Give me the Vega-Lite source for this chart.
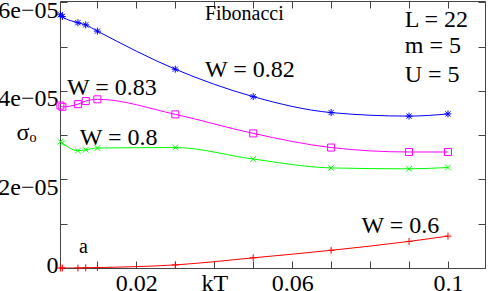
{
  "$schema": "https://vega.github.io/schema/vega-lite/v6.json",
  "width": 425,
  "height": 267,
  "autosize": {"type": "none"},
  "padding": {"left": 60, "top": 1, "right": 3, "bottom": 23},
  "background": "white",
  "config": {
    "view": {"stroke": "#444", "strokeWidth": 1},
    "font": "Liberation Serif, DejaVu Serif, serif",
    "axis": {"grid": false, "domain": false, "tickColor": "#444", "tickSize": -7, "tickWidth": 1, "labelFont": "Liberation Serif, DejaVu Serif, serif", "labelFontSize": 24, "labelColor": "black", "titleFont": "Liberation Serif, DejaVu Serif, serif", "titleFontWeight": "normal", "titleColor": "black"}
  },
  "datasets": {
    "series": [
      {"kT": 0.0005, "sigma": 5.72e-5, "W": "0.82"},
      {"kT": 0.001, "sigma": 5.68e-5, "W": "0.82"},
      {"kT": 0.005, "sigma": 5.54e-5, "W": "0.82"},
      {"kT": 0.007, "sigma": 5.49e-5, "W": "0.82"},
      {"kT": 0.01, "sigma": 5.35e-5, "W": "0.82"},
      {"kT": 0.03, "sigma": 4.49e-5, "W": "0.82"},
      {"kT": 0.05, "sigma": 3.87e-5, "W": "0.82"},
      {"kT": 0.07, "sigma": 3.51e-5, "W": "0.82"},
      {"kT": 0.09, "sigma": 3.43e-5, "W": "0.82"},
      {"kT": 0.1, "sigma": 3.48e-5, "W": "0.82"},
      {"kT": 0.0005, "sigma": 3.67e-5, "W": "0.83"},
      {"kT": 0.001, "sigma": 3.64e-5, "W": "0.83"},
      {"kT": 0.005, "sigma": 3.70e-5, "W": "0.83"},
      {"kT": 0.007, "sigma": 3.77e-5, "W": "0.83"},
      {"kT": 0.01, "sigma": 3.81e-5, "W": "0.83"},
      {"kT": 0.03, "sigma": 3.47e-5, "W": "0.83"},
      {"kT": 0.05, "sigma": 3.04e-5, "W": "0.83"},
      {"kT": 0.07, "sigma": 2.72e-5, "W": "0.83"},
      {"kT": 0.09, "sigma": 2.62e-5, "W": "0.83"},
      {"kT": 0.1, "sigma": 2.62e-5, "W": "0.83"},
      {"kT": 0.0005, "sigma": 2.85e-5, "W": "0.8"},
      {"kT": 0.001, "sigma": 2.82e-5, "W": "0.8"},
      {"kT": 0.005, "sigma": 2.65e-5, "W": "0.8"},
      {"kT": 0.007, "sigma": 2.67e-5, "W": "0.8"},
      {"kT": 0.01, "sigma": 2.71e-5, "W": "0.8"},
      {"kT": 0.03, "sigma": 2.72e-5, "W": "0.8"},
      {"kT": 0.05, "sigma": 2.46e-5, "W": "0.8"},
      {"kT": 0.07, "sigma": 2.26e-5, "W": "0.8"},
      {"kT": 0.09, "sigma": 2.24e-5, "W": "0.8"},
      {"kT": 0.1, "sigma": 2.27e-5, "W": "0.8"},
      {"kT": 0.0005, "sigma": 0.0, "W": "0.6"},
      {"kT": 0.001, "sigma": 0.0, "W": "0.6"},
      {"kT": 0.005, "sigma": 0.0, "W": "0.6"},
      {"kT": 0.007, "sigma": 0.005e-5, "W": "0.6"},
      {"kT": 0.01, "sigma": 0.01e-5, "W": "0.6"},
      {"kT": 0.03, "sigma": 0.07e-5, "W": "0.6"},
      {"kT": 0.05, "sigma": 0.23e-5, "W": "0.6"},
      {"kT": 0.07, "sigma": 0.40e-5, "W": "0.6"},
      {"kT": 0.09, "sigma": 0.60e-5, "W": "0.6"},
      {"kT": 0.1, "sigma": 0.72e-5, "W": "0.6"}
    ],
    "notes": [
      {"kT": 0.0376, "sigma": 5.60e-5, "text": "Fibonacci", "kind": "small"},
      {"kT": 0.0889, "sigma": 5.44e-5, "text": "L = 22", "kind": "big"},
      {"kT": 0.0889, "sigma": 4.85e-5, "text": "m = 5", "kind": "big"},
      {"kT": 0.0889, "sigma": 4.20e-5, "text": "U = 5", "kind": "big"},
      {"kT": 0.0376, "sigma": 4.31e-5, "text": "W = 0.82", "kind": "big"},
      {"kT": 0.0022, "sigma": 3.91e-5, "text": "W = 0.83", "kind": "big"},
      {"kT": 0.0055, "sigma": 2.78e-5, "text": "W = 0.8", "kind": "big"},
      {"kT": 0.0778, "sigma": 0.79e-5, "text": "W = 0.6", "kind": "big"},
      {"kT": 0.0053, "sigma": 0.345e-5, "text": "a", "kind": "small"}
    ]
  },
  "resolve": {"axis": {"x": "independent", "y": "independent"}},
  "layer": [
    {
      "data": {"name": "series"},
      "mark": {"type": "line", "interpolate": "monotone", "strokeWidth": 1, "clip": true},
      "encoding": {
        "x": {"field": "kT", "type": "quantitative",
              "scale": {"domain": [0.0004, 0.1095], "nice": false, "zero": false},
              "axis": {"orient": "bottom", "values": [0.01, 0.02, 0.03, 0.04, 0.05, 0.06, 0.07, 0.08, 0.09, 0.1],
                       "labelExpr": "round(datum.value*100) == 2 ? '0.02' : round(datum.value*100) == 4 ? 'kT' : round(datum.value*100) == 6 ? '0.06' : round(datum.value*100) == 10 ? '0.1' : ''",
                       "labelPadding": 10, "labelBaseline": "top", "labelFlush": false, "labelOverlap": false, "title": null}},
        "y": {"field": "sigma", "type": "quantitative",
              "scale": {"domain": [0, 6.03e-5], "nice": false},
              "axis": {"orient": "left", "values": [0, 1e-5, 2e-5, 3e-5, 4e-5, 5e-5, 6e-5],
                       "labelExpr": "round(datum.value*1e5) == 0 ? '0' : round(datum.value*1e5) % 2 == 0 ? round(datum.value*1e5) + 'e\u221205' : ''",
                       "labelPadding": 9,
                       "labelBaseline": {"condition": {"test": "datum.value == 0", "value": "middle"}, "value": "top"},
                       "labelOffset": {"condition": {"test": "datum.value == 0", "value": -3}, "value": -4},
                       "labelFlush": false, "labelOverlap": false,
                       "title": "σₒ", "titleAngle": 0, "titleFontSize": 24, "titleAlign": "left", "titleBaseline": "alphabetic", "titleX": -44, "titleY": 138}},
        "color": {"field": "W", "type": "nominal", "scale": {"domain": ["0.82", "0.83", "0.8", "0.6"], "range": ["#0000ff", "#ff00ff", "#00ff00", "#ff0000"]}, "legend": null}
      }
    },
    {
      "data": {"name": "series"},
      "mark": {"type": "point", "filled": false, "strokeWidth": 1, "opacity": 1, "size": 49},
      "encoding": {
        "x": {"field": "kT", "type": "quantitative",
              "axis": {"orient": "top", "values": [0.01, 0.02, 0.03, 0.04, 0.05, 0.06, 0.07, 0.08, 0.09, 0.1], "labels": false, "title": null}},
        "y": {"field": "sigma", "type": "quantitative",
              "axis": {"orient": "right", "values": [0, 1e-5, 2e-5, 3e-5, 4e-5, 5e-5, 6e-5], "labels": false, "title": null}},
        "color": {"field": "W", "type": "nominal", "legend": null},
        "shape": {"field": "W", "type": "nominal", "legend": null,
                  "scale": {"domain": ["0.82", "0.83", "0.8", "0.6"],
                            "range": ["M-1,0L1,0M0,-1L0,1M-0.75,-0.75L0.75,0.75M-0.75,0.75L0.75,-0.75", "square", "M-0.8,-0.8L0.8,0.8M-0.8,0.8L0.8,-0.8", "M-1,0L1,0M0,-1L0,1"]}}
      }
    },
    {
      "data": {"name": "notes"},
      "mark": {"type": "text", "align": "left", "baseline": "alphabetic", "font": "Liberation Serif, DejaVu Serif, serif", "color": "black"},
      "encoding": {
        "x": {"field": "kT", "type": "quantitative", "axis": null},
        "y": {"field": "sigma", "type": "quantitative", "axis": null},
        "text": {"field": "text"},
        "size": {"field": "kind", "type": "nominal", "scale": {"domain": ["big", "small"], "range": [24, 20]}, "legend": null}
      }
    }
  ]
}
